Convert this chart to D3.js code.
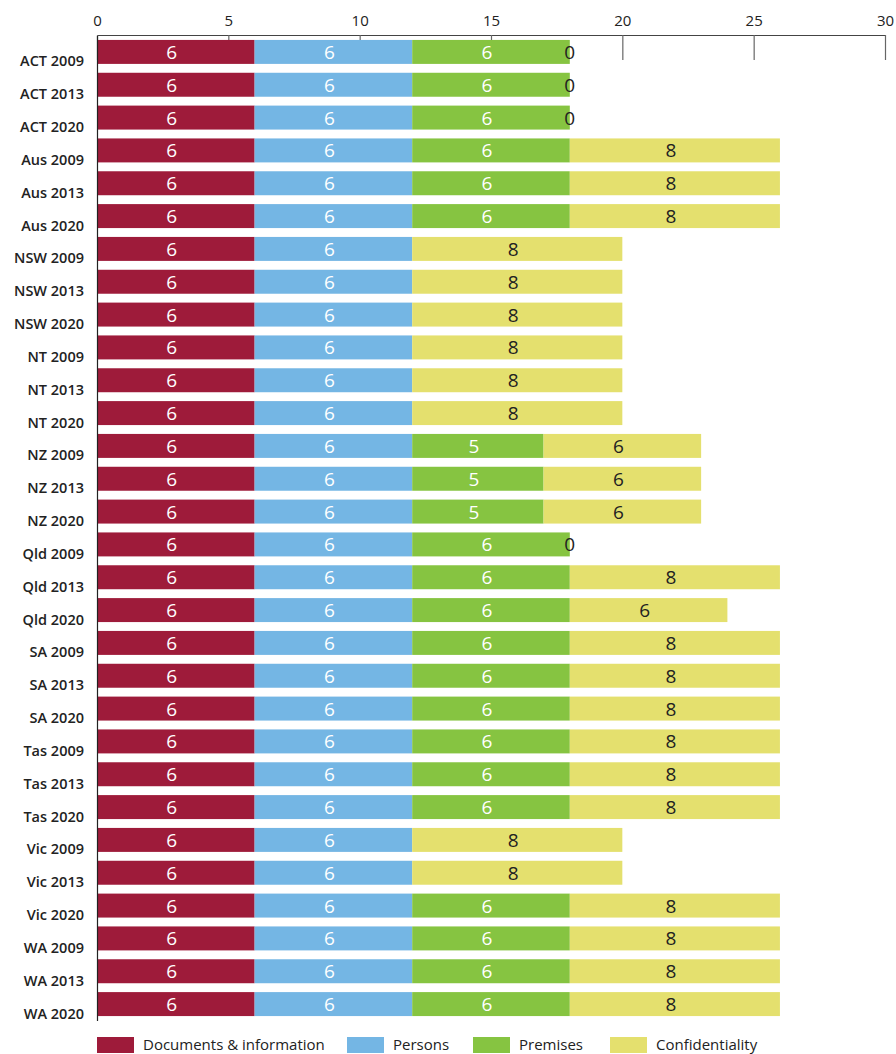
<!DOCTYPE html>
<html><head><meta charset="utf-8">
<script src="https://cdn.jsdelivr.net/npm/d3@7"></script>
<style>body{margin:0;background:#fff}svg{display:block}</style>
</head><body>
<svg id="chart" width="896" height="1054"></svg>
<script>
const categories = ["ACT 2009","ACT 2013","ACT 2020","Aus 2009","Aus 2013","Aus 2020","NSW 2009","NSW 2013","NSW 2020","NT 2009","NT 2013","NT 2020","NZ 2009","NZ 2013","NZ 2020","Qld 2009","Qld 2013","Qld 2020","SA 2009","SA 2013","SA 2020","Tas 2009","Tas 2013","Tas 2020","Vic 2009","Vic 2013","Vic 2020","WA 2009","WA 2013","WA 2020"];
const seriesNames = ["Documents & information","Persons","Premises","Confidentiality"];
const documents = [6,6,6,6,6,6,6,6,6,6,6,6,6,6,6,6,6,6,6,6,6,6,6,6,6,6,6,6,6,6];
const persons   = [6,6,6,6,6,6,6,6,6,6,6,6,6,6,6,6,6,6,6,6,6,6,6,6,6,6,6,6,6,6];
const premises  = [6,6,6,6,6,6,0,0,0,0,0,0,5,5,5,6,6,6,6,6,6,6,6,6,0,0,6,6,6,6];
const confidentiality = [0,0,0,8,8,8,8,8,8,8,8,8,6,6,6,0,8,6,8,8,8,8,8,8,8,8,8,8,8,8];
const xTicks = [0,5,10,15,20,25,30];
const colors = ["#9e1b3a","#74b6e4","#86c441","#e4e06e"];
const labelColors = ["#ffffff","#ffffff","#ffffff","#222222"];

const svg = d3.select("#chart");
const font = "'Open Sans', 'Noto Sans', sans-serif";
const x = d3.scaleLinear().domain([0,30]).range([97,885]);
const y = d3.scaleBand().domain(categories).range([35.5,1020.5]).paddingInner(0.27).paddingOuter(0.135);

const stackData = categories.map((c,i)=>({cat:c,
  [seriesNames[0]]:documents[i],[seriesNames[1]]:persons[i],
  [seriesNames[2]]:premises[i],[seriesNames[3]]:confidentiality[i]}));
const stacked = d3.stack().keys(seriesNames)(stackData);

// top axis (ticks under bars)
const ax = svg.append("g").attr("transform","translate(0,35)")
  .call(d3.axisTop(x).tickValues(xTicks).tickSizeInner(-25).tickSizeOuter(0).tickPadding(9));
ax.select(".domain").attr("stroke","#444").attr("stroke-width",1.2);
ax.selectAll(".tick line").attr("stroke","#666").attr("stroke-width",1.2);
ax.selectAll(".tick text").attr("font-family",font).attr("font-size",15).attr("fill","#222");

// bars + labels
stacked.forEach((layer,k)=>{
  svg.append("g").selectAll("rect").data(layer).join("rect")
    .attr("x",d=>x(d[0])).attr("width",d=>x(d[1])-x(d[0]))
    .attr("y",d=>y(d.data.cat)).attr("height",y.bandwidth())
    .attr("fill",colors[k]);
  svg.append("g").selectAll("text").data(layer.filter(d=>(d[1]-d[0])>0 || k===3)).join("text")
    .attr("x",d=>(x(d[0])+x(d[1]))/2 - ((d[1]-d[0])>0?4:0))
    .attr("y",d=>y(d.data.cat)+y.bandwidth()/2+7)
    .attr("text-anchor","middle")
    .attr("font-family",font).attr("font-size",19)
    .attr("fill",labelColors[k])
    .text(d=>d[1]-d[0]);
});

// left axis
const yAxis = svg.append("g").attr("transform","translate(97,0)")
  .call(d3.axisLeft(y).tickSize(0).tickPadding(13));
yAxis.select(".domain").attr("stroke","#222").attr("stroke-width",1.2);
yAxis.selectAll(".tick text").attr("font-family",font).attr("font-size",14.5).attr("font-weight",600)
  .attr("fill","#222").attr("dy","1.0em");

// legend
const legX = [97,347,473,610];
const leg = svg.append("g").selectAll("g").data(seriesNames).join("g")
  .attr("transform",(d,i)=>`translate(${legX[i]},1037)`);
leg.append("rect").attr("width",37).attr("height",16).attr("fill",(d,i)=>colors[i]);
leg.append("text").attr("x",46).attr("y",13).attr("font-family",font).attr("font-size",15).attr("fill","#222").text(d=>d);
</script>
</body></html>
